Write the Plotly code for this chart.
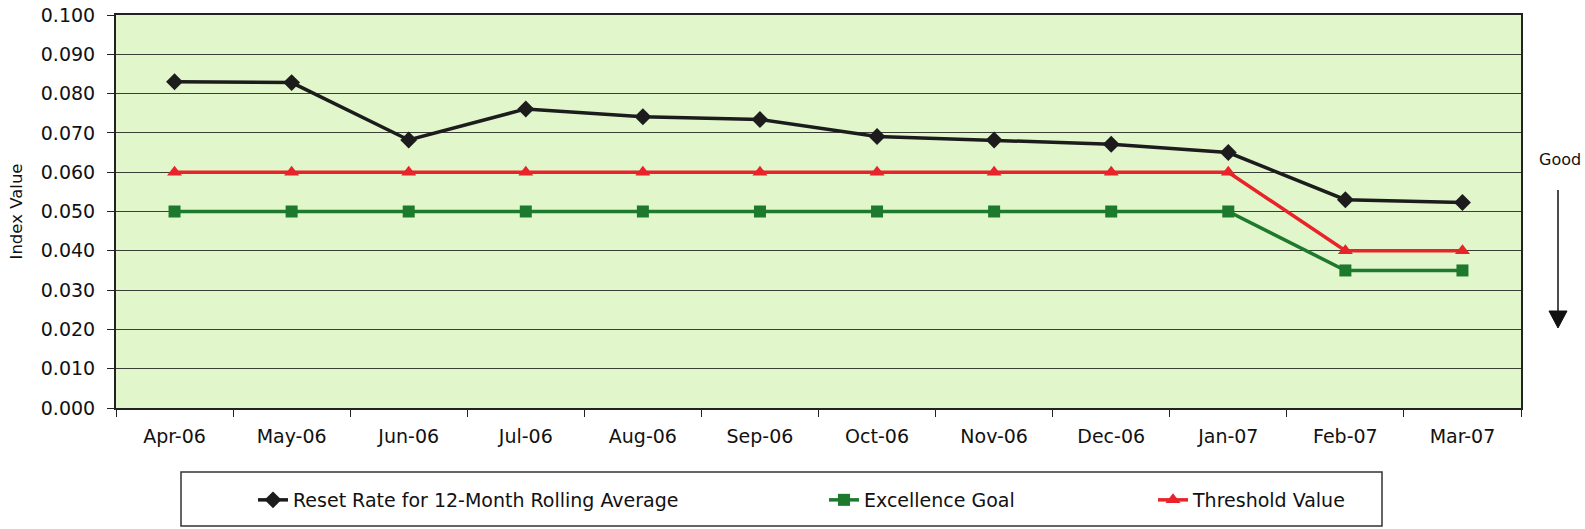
import plotly.graph_objects as go

months = ["Apr-06", "May-06", "Jun-06", "Jul-06", "Aug-06", "Sep-06",
          "Oct-06", "Nov-06", "Dec-06", "Jan-07", "Feb-07", "Mar-07"]
reset_rate = [0.0830, 0.0828, 0.0682, 0.0761, 0.0741, 0.0734,
              0.0691, 0.0682, 0.0671, 0.0650, 0.0530, 0.0523]
excellence_goal = [0.050, 0.050, 0.050, 0.050, 0.050, 0.050,
                   0.050, 0.050, 0.050, 0.050, 0.035, 0.035]
threshold_value = [0.060, 0.060, 0.060, 0.060, 0.060, 0.060,
                   0.060, 0.060, 0.060, 0.060, 0.040, 0.040]
y_ticks = [0.000, 0.010, 0.020, 0.030, 0.040, 0.050, 0.060, 0.070, 0.080, 0.090, 0.100]

W, H = 1585, 529
L, R, T, B = 116, 1521, 15, 408


def px(x):
    return (x - L) / (R - L)


def py(y):
    return (B - y) / (B - T)


FONT = "DejaVu Sans"
BLACK = "#1c1c1c"
RED = "#e8232a"
GREEN = "#1d7a2c"

fig = go.Figure()
fig.add_trace(go.Scatter(
    x=months, y=reset_rate, mode="lines+markers",
    name="Reset Rate for 12-Month Rolling Average",
    line=dict(color=BLACK, width=3.5),
    marker=dict(symbol="diamond", size=13, color=BLACK),
    legend="legend"))
fig.add_trace(go.Scatter(
    x=months, y=excellence_goal, mode="lines+markers",
    name="Excellence Goal",
    line=dict(color=GREEN, width=3.5),
    marker=dict(symbol="square", size=12, color=GREEN),
    legend="legend2"))
fig.add_trace(go.Scatter(
    x=months, y=threshold_value, mode="lines+markers",
    name="Threshold Value",
    line=dict(color=RED, width=3.5),
    marker=dict(symbol="triangle-up", size=13, color=RED),
    legend="legend3"))

legend_common = dict(orientation="h", yanchor="middle", xanchor="left",
                     bgcolor="rgba(0,0,0,0)", borderwidth=0,
                     font=dict(family=FONT, size=19, color="#111111"))
ly = py(500)
fig.update_layout(
    width=W, height=H,
    margin=dict(l=L, r=W - R, t=T, b=H - B, autoexpand=False),
    paper_bgcolor="white",
    plot_bgcolor="#e1f6cb",
    font=dict(family=FONT, size=19, color="#111111"),
    legend=dict(x=px(295 - 42), y=ly, **legend_common),
    legend2=dict(x=px(866 - 42), y=ly, **legend_common),
    legend3=dict(x=px(1195 - 42), y=ly, **legend_common),
    xaxis=dict(
        type="category", range=[-0.5, 11.5], tickson="boundaries",
        showgrid=False, showline=True, linecolor="#222222", linewidth=2,
        mirror=True, ticks="outside", ticklen=7, tickcolor="#222222",
        tickfont=dict(family=FONT, size=19, color="#111111"),
        ticklabelstandoff=10, zeroline=False, automargin=False),
    yaxis=dict(
        range=[0, 0.1], tickvals=y_ticks, tickformat=".3f",
        showgrid=True, gridcolor="#3a3f36", gridwidth=1.3,
        showline=True, linecolor="#222222", linewidth=2, mirror=True,
        ticks="outside", ticklen=7, tickcolor="#222222",
        tickfont=dict(family=FONT, size=19, color="#111111"),
        ticklabelstandoff=8, zeroline=False, automargin=False,
        title=dict(text="Index Value", font=dict(family=FONT, size=16.5, color="#111111"),
                   standoff=14)),
    showlegend=True,
)

# legend frame
fig.add_shape(type="rect", xref="paper", yref="paper",
              x0=px(181), x1=px(1382), y0=py(472), y1=py(526),
              line=dict(color="#333333", width=1.5), fillcolor="rgba(0,0,0,0)",
              layer="below")

# "Good" arrow
fig.add_annotation(text="Good", xref="paper", yref="paper",
                   x=px(1560), y=py(159), xanchor="center", yanchor="middle",
                   showarrow=False,
                   font=dict(family=FONT, size=16, color="#111111"))
fig.add_shape(type="line", xref="paper", yref="paper",
              x0=px(1558), x1=px(1558), y0=py(190), y1=py(315),
              line=dict(color="#111111", width=1.5))
fig.add_shape(type="path", xref="paper", yref="paper",
              path=f"M {px(1549)} {py(311)} L {px(1567)} {py(311)} L {px(1558)} {py(328)} Z",
              fillcolor="#111111", line=dict(color="#111111", width=1))

fig.write_html("out.html")
